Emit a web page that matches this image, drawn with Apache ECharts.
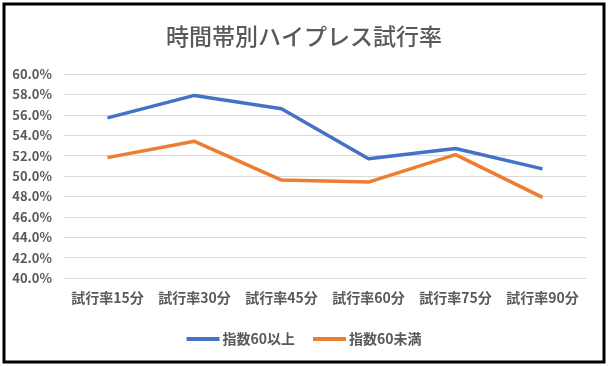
<!DOCTYPE html>
<html><head><meta charset="utf-8">
<script src="https://cdn.jsdelivr.net/npm/echarts@6/dist/echarts.min.js"></script>
<style>html,body{margin:0;padding:0;background:#fff}#c{width:608px;height:366px}</style>
</head><body><div id="c"></div>
<script>
const categories = ['試行率15分','試行率30分','試行率45分','試行率60分','試行率75分','試行率90分'];
const seriesNames = ['指数60以上','指数60未満'];
const above60 = [55.7, 57.9, 56.6, 51.7, 52.7, 50.7];
const below60 = [51.8, 53.4, 49.6, 49.4, 52.1, 47.9];
const font = '"Noto Sans CJK JP", sans-serif';
const chart = echarts.init(document.getElementById('c'), null, {renderer:'canvas'});
chart.setOption({
  animation:false,
  backgroundColor:'#fff',
  title:{text:'時間帯別ハイプレス試行率', left:'center', top:20,
    textStyle:{fontFamily:font, fontSize:23, fontWeight:500, color:'#595959'}},
  grid:{left:64, right:22, top:74, bottom:88, containLabel:false},
  xAxis:{type:'category', data:categories, boundaryGap:true,
    axisLine:{show:false}, axisTick:{show:false},
    axisLabel:{interval:0, hideOverlap:false, fontFamily:font, fontSize:14, fontWeight:'bold', color:'#595959', margin:13}},
  yAxis:{type:'value', min:40, max:60, interval:2,
    axisLine:{show:false}, axisTick:{show:false},
    axisLabel:{fontFamily:font, fontSize:13, fontWeight:'bold', color:'#595959', margin:12,
      formatter:v=>v.toFixed(1)+'%'},
    splitLine:{lineStyle:{color:'#d9d9d9', width:1}}},
  legend:{top:327, left:'center', itemWidth:33, itemHeight:4, itemGap:18, icon:'rect',
    textStyle:{fontFamily:font, fontSize:14, fontWeight:'bold', color:'#595959', padding:[0,0,0,-2]}},
  series:[
    {name:seriesNames[0], type:'line', data:above60, symbol:'none',
     lineStyle:{width:3.5, color:'#4472c4'}, itemStyle:{color:'#4472c4'}},
    {name:seriesNames[1], type:'line', data:below60, symbol:'none',
     lineStyle:{width:3.5, color:'#ed7d31'}, itemStyle:{color:'#ed7d31'}}
  ],
  graphic:[{type:'rect', shape:{x:4, y:4, width:600, height:358},
    style:{fill:null, stroke:'#000', lineWidth:3}, silent:true}]
});
</script></body></html>
